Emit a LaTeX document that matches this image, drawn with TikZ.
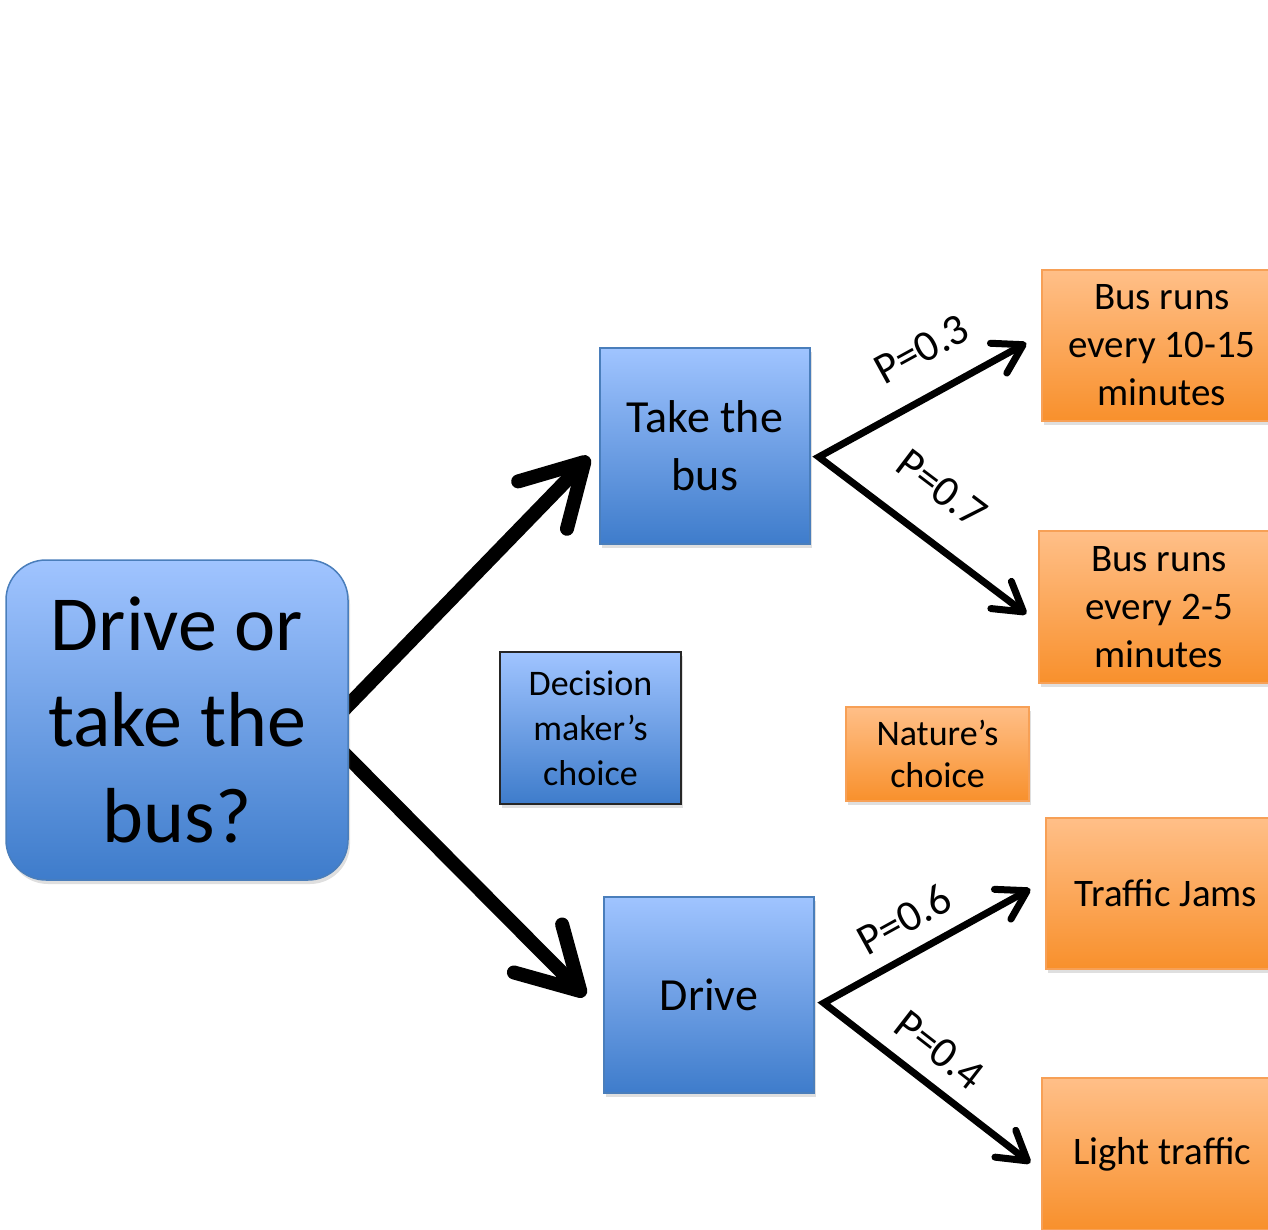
\documentclass[tikz,border=0pt]{standalone}
\usepackage{fontspec}
\setmainfont{Carlito}
\usetikzlibrary{arrows.meta,shadows}
\pgfdeclarelayer{bg}
\pgfsetlayers{bg,main}
\definecolor{bluetop}{HTML}{A0C4FF}
\definecolor{bluebot}{HTML}{3E7CCB}
\definecolor{blueline}{HTML}{4A7EBB}
\definecolor{orgtop}{HTML}{FFBF88}
\definecolor{orgbot}{HTML}{F8902C}
\definecolor{orgline}{HTML}{F7A056}
\begin{document}
\begin{tikzpicture}[x=1pt,y=-1pt,
  box/.style={draw, line width=1.5pt, inner sep=0pt, align=center,
    drop shadow={opacity=0.25, shadow xshift=2pt, shadow yshift=-4pt}},
  bluebox/.style={box, draw=blueline, top color=bluetop, bottom color=bluebot},
  orangebox/.style={box, draw=orgline, top color=orgtop, bottom color=orgbot},
  bigarrow/.style={line width=14pt, line cap=butt, -{Straight Barb[length=60pt,width=68pt,round]}},
  smallarrow/.style={line width=7pt, {Straight Barb[length=28pt,width=34pt,round]}-{Straight Barb[length=28pt,width=34pt,round]}},
  plabel/.style={sloped, anchor=south, inner xsep=0pt, font=\fontsize{44}{52}\selectfont}
]
\useasboundingbox (0,0) rectangle (1268,1230);
\clip (0,0) rectangle (1268,1230);

\node[bluebox, rounded corners=40pt, minimum width=342pt, minimum height=320pt,
  font=\fontsize{78}{96}\selectfont] (main) at (177,720) {Drive or\\take the\\bus?};
\node[bluebox, minimum width=210pt, minimum height=196pt,
  font=\fontsize{46}{58}\selectfont] (take) at (705,446) {Take the\\bus};
\node[bluebox, minimum width=210pt, minimum height=196pt,
  font=\fontsize{46}{58}\selectfont] (drive) at (709,995) {Drive};
\node[box, draw=black!85, line width=1.2pt, top color=bluetop, bottom color=bluebot,
  minimum width=181pt, minimum height=152pt,
  font=\fontsize{36}{45}\selectfont] (dm) at (590.5,728) {Decision\\maker’s\\choice};
\node[orangebox, minimum width=183pt, minimum height=94pt,
  font=\fontsize{36}{42}\selectfont] (nat) at (937.5,754) {Nature’s\\choice};
\node[orangebox, minimum width=240pt, minimum height=151pt,
  font=\fontsize{39}{48}\selectfont] (o1) at (1162,345.5) {Bus runs\\every 10-15\\minutes};
\node[orangebox, minimum width=240pt, minimum height=152pt,
  font=\fontsize{39}{48}\selectfont] (o2) at (1159,607) {Bus runs\\every 2-5\\minutes};
\node[orangebox, minimum width=240pt, minimum height=151pt,
  font=\fontsize{39}{48}\selectfont] (o3) at (1166,893.5) {Traffic Jams};
\node[orangebox, minimum width=240pt, minimum height=152pt,
  font=\fontsize{39}{48}\selectfont] (o4) at (1162,1154) {Light traffic};

\begin{pgfonlayer}{bg}
\draw[bigarrow] ([xshift=-8pt,yshift=7pt]main.east) -- ([xshift=-10pt,yshift=-11pt]take.west);
\draw[bigarrow] ([xshift=-6pt,yshift=-32pt]main.east) -- ([xshift=-18pt,yshift=-1pt]drive.west);
\draw[smallarrow] ([xshift=-15pt,yshift=2.5pt]o1.west)
  -- node[plabel, pos=0.4, inner ysep=27pt] {P=0.3} ([xshift=8pt,yshift=-11pt]take.east)
  -- node[plabel, pos=0.45, inner ysep=31pt] {P=0.7} ([xshift=-12pt,yshift=-7pt]o2.west);
\draw[smallarrow] ([xshift=-15pt,yshift=4.5pt]o3.west)
  -- node[plabel, pos=0.53, inner ysep=16pt] {P=0.6} ([xshift=9pt,yshift=-8pt]drive.east)
  -- node[plabel, pos=0.46, inner ysep=16pt] {P=0.4} ([xshift=-11pt,yshift=-9pt]o4.west);
\end{pgfonlayer}
\end{tikzpicture}
\end{document}
